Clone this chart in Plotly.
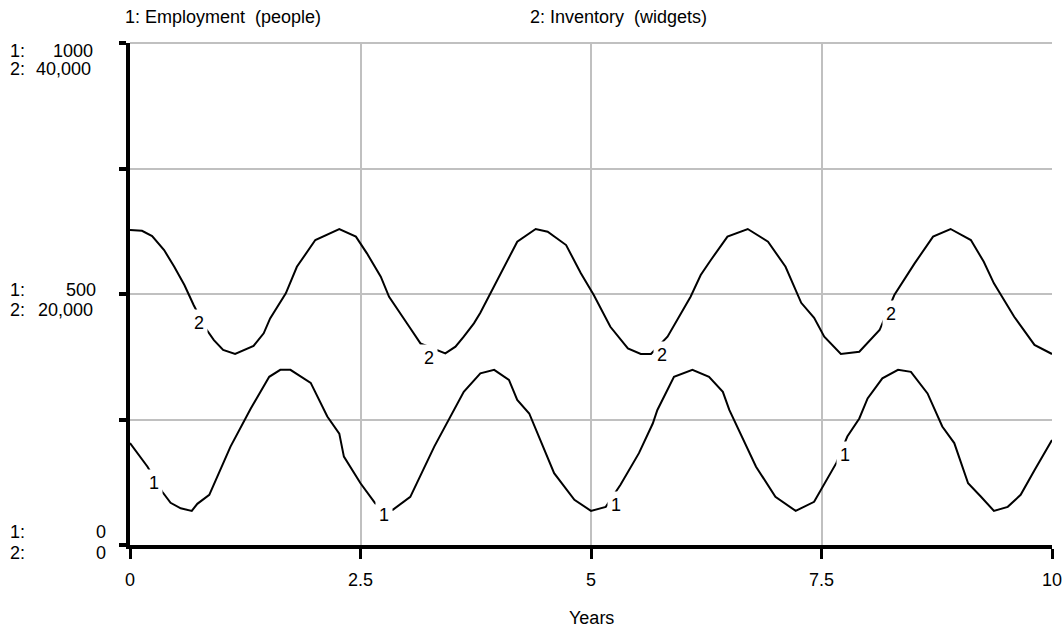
import plotly.graph_objects as go

# ---- data ----
emp_t = [0.0, 0.19, 0.35, 0.44, 0.55, 0.67, 0.73, 0.86, 1.09, 1.31, 1.51, 1.63, 1.74, 1.96, 2.14, 2.27,
         2.32, 2.50, 2.66, 2.85, 3.04, 3.30, 3.62, 3.80, 3.95, 4.11, 4.20, 4.33, 4.60, 4.82, 5.00, 5.16,
         5.32, 5.52, 5.67, 5.72, 5.90, 6.10, 6.28, 6.43, 6.50, 6.79, 7.00, 7.22, 7.42, 7.66, 7.78, 7.91,
         8.00, 8.16, 8.33, 8.47, 8.65, 8.81, 8.94, 9.09, 9.23, 9.37, 9.52, 9.66, 9.81, 10.0]
emp_v = [203, 156, 106, 84, 73, 68, 82, 100, 196, 272, 335, 349, 349, 323, 256, 222,
         176, 123, 83, 70, 96, 196, 305, 342, 349, 329, 289, 262, 143, 90, 68, 76,
         120, 183, 242, 269, 335, 349, 335, 305, 269, 156, 96, 68, 86, 163, 216, 252,
         292, 332, 349, 345, 302, 236, 203, 123, 96, 68, 76, 100, 149, 209]

inv_t = [0.0, 0.13, 0.24, 0.37, 0.48, 0.59, 0.69, 0.82, 0.91, 1.01, 1.14, 1.34, 1.45, 1.52, 1.69, 1.81,
         2.01, 2.27, 2.45, 2.57, 2.72, 2.81, 3.04, 3.15, 3.42, 3.53, 3.62, 3.73, 3.80, 3.95, 4.09, 4.20,
         4.40, 4.53, 4.73, 4.89, 5.03, 5.21, 5.40, 5.54, 5.65, 5.83, 6.08, 6.19, 6.30, 6.48, 6.70, 6.92,
         7.11, 7.28, 7.42, 7.53, 7.71, 7.91, 8.13, 8.29, 8.51, 8.71, 8.90, 9.12, 9.26, 9.37, 9.59, 9.81, 10.0]
inv_v = [25100, 25040, 24620, 23500, 22170, 20720, 19120, 17270, 16330, 15540, 15220, 15860, 16870, 18060, 20050, 22170,
         24300, 25180, 24570, 23240, 21380, 19780, 17270, 16070, 15270, 15800, 16600, 17660, 18500, 20580, 22570, 24170,
         25180, 24960, 23900, 21650, 19920, 17390, 15670, 15220, 15220, 16600, 19780, 21510, 22710, 24570, 25180, 24170,
         22170, 19300, 18100, 16600, 15220, 15400, 17130, 19920, 22440, 24570, 25180, 24300, 22570, 20850, 18190, 15940, 15220]

emp_label_t = [0.26, 2.75, 5.27, 7.75]
emp_label_v = [123, 60, 80, 179]
inv_label_t = [0.75, 3.24, 5.77, 8.25]
inv_label_v = [17720, 14880, 15120, 18440]

x_ticks = [0, 2.5, 5, 7.5, 10]
x_tick_text = ["0", "2.5", "5", "7.5", "10"]
y_ticks = [0, 250, 500, 750, 1000]

scale_emp = ["1000", "500", "0"]
scale_inv = ["40,000", "20,000", "0"]

series_titles = ["1: Employment\u00a0\u00a0(people)", "2: Inventory\u00a0\u00a0(widgets)"]
x_title = "Years"

FONT = "Liberation Sans, Arial, sans-serif"
FS = 18
W, H = 1063, 630
ML, MR, MT, MB = 130, 11, 43, 85
PW, PH = W - ML - MR, H - MT - MB

def px2paper_x(px):
    return (px - ML) / PW

def py2paper_y(py):
    return (H - MB - py) / PH

fig = go.Figure()
fig.add_trace(go.Scatter(x=emp_t, y=emp_v, mode="lines", line=dict(color="black", width=2),
                         name="Employment", yaxis="y"))
fig.add_trace(go.Scatter(x=inv_t, y=inv_v, mode="lines", line=dict(color="black", width=2),
                         name="Inventory", yaxis="y2"))

txt = dict(size=FS, color="black", family=FONT)
ann = []
for t, v in zip(emp_label_t, emp_label_v):
    ann.append(dict(x=t, y=v, xref="x", yref="y", text="1", showarrow=False,
                    bgcolor="white", borderpad=3, font=txt))
for t, v in zip(inv_label_t, inv_label_v):
    ann.append(dict(x=t, y=v, xref="x", yref="y2", text="2", showarrow=False,
                    bgcolor="white", borderpad=3, font=txt))

# series headings at the top
ann.append(dict(x=px2paper_x(123), y=py2paper_y(17), xref="paper", yref="paper", text=series_titles[0],
                showarrow=False, xanchor="left", yanchor="middle", font=txt))
ann.append(dict(x=px2paper_x(528), y=py2paper_y(17), xref="paper", yref="paper", text=series_titles[1],
                showarrow=False, xanchor="left", yanchor="middle", font=txt))

# left scale labels
rows = [(51, 69, 95, 93), (290, 310, 98, 95), (532, 553, 108, 108)]
for (y1, y2, r1, r2), e, i in zip(rows, scale_emp, scale_inv):
    for yy, lab, rr, val in ((y1, "1:", r1, e), (y2, "2:", r2, i)):
        ann.append(dict(x=px2paper_x(8), y=py2paper_y(yy), xref="paper", yref="paper", text=lab,
                        showarrow=False, xanchor="left", yanchor="middle", font=txt))
        ann.append(dict(x=px2paper_x(rr), y=py2paper_y(yy), xref="paper", yref="paper", text=val,
                        showarrow=False, xanchor="right", yanchor="middle", font=txt))

ann.append(dict(x=px2paper_x(591), y=py2paper_y(618), xref="paper", yref="paper", text=x_title,
                showarrow=False, xanchor="center", yanchor="middle", font=txt))

fig.update_layout(
    width=W, height=H,
    autosize=False,
    margin=dict(l=ML, r=MR, t=MT, b=MB, pad=0, autoexpand=False),
    paper_bgcolor="white", plot_bgcolor="white",
    showlegend=False,
    font=dict(family=FONT, size=FS, color="black"),
    xaxis=dict(range=[0, 10], tickmode="array", tickvals=x_ticks, ticktext=x_tick_text,
               automargin=False,
               showgrid=True, gridcolor="#c0c0c0", gridwidth=2, zeroline=False,
               showline=True, linecolor="black", linewidth=4,
               ticks="outside", ticklen=10, tickwidth=3, tickcolor="black",
               ticklabelstandoff=5, tickfont=txt),
    yaxis=dict(range=[0, 1000], tickmode="array", tickvals=y_ticks,
               automargin=False,
               showgrid=True, gridcolor="#c0c0c0", gridwidth=2, zeroline=False,
               showline=True, linecolor="black", linewidth=4,
               ticks="outside", ticklen=7, tickwidth=4, tickcolor="black",
               showticklabels=False),
    yaxis2=dict(range=[0, 40000], overlaying="y", side="left", visible=False,
                automargin=False, showgrid=False, zeroline=False),
    shapes=[dict(type="line", xref="paper", yref="paper", x0=0, x1=1, y0=1, y1=1,
                 line=dict(color="#c0c0c0", width=2), layer="below")],
    annotations=ann,
)

fig.write_html("out.html",
               config={"displayModeBar": False, "responsive": False},
               post_script="document.body.style.margin='0';document.body.style.padding='0';document.body.style.overflow='hidden';")
